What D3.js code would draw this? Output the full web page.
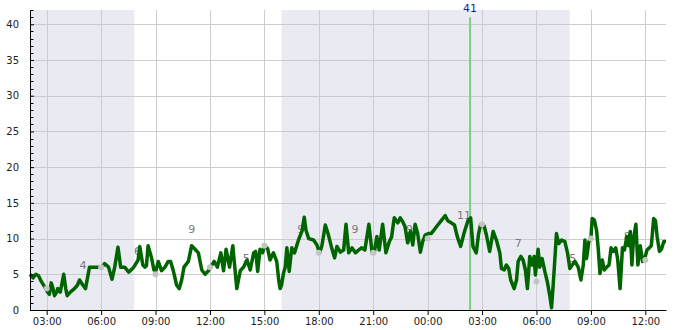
<!DOCTYPE html>
<html>
<head>
<meta charset="utf-8">
<script src="https://cdn.jsdelivr.net/npm/d3@7"></script>
<style>
    body { margin: 0; background: #fff; }
    #chart text { font-family: "DejaVu Sans", sans-serif; }
</style>
</head>
<body>
<div id="chart"></div>
<script>
// hours counted from midnight of the first day
const lineHours = [
    2.08, 2.25, 2.4, 2.55, 2.7, 2.9, 3.05, 3.15, 3.25, 3.35, 3.43, 3.55, 3.61, 3.75, 3.94, 4.05, 4.13, 4.3, 4.53, 4.7,
    4.81, 4.99, 5.14, 5.25, 5.36, 5.6, 5.92, 6.05, 6.19, 6.41, 6.6, 6.75, 6.93, 7.08, 7.3, 7.52, 7.8, 8.04, 8.13,
    8.3, 8.41, 8.5, 8.59, 8.78, 8.91, 9.02, 9.15, 9.33, 9.52, 9.7, 9.83, 9.98, 10.16, 10.31, 10.44, 10.57, 10.81,
    10.99, 11.18, 11.36, 11.55, 11.73, 11.92, 12.04, 12.23, 12.41, 12.6, 12.75, 12.89, 13.08, 13.26, 13.48, 13.67,
    13.85, 14.04, 14.22, 14.41,
    14.52, 14.63, 14.76, 14.9, 15.0, 15.18, 15.31, 15.4, 15.5, 15.68, 15.8, 15.87, 15.95, 16.05, 16.15, 16.24, 16.37,
    16.51, 16.66, 16.88, 17.07, 17.2, 17.29, 17.44, 17.71, 17.9, 18.04, 18.17, 18.36, 18.51, 18.69, 18.87, 19.0,
    19.19, 19.37, 19.5, 19.65, 19.83, 20.02, 20.2, 20.35, 20.54, 20.76, 20.94,
    21.06, 21.2, 21.33, 21.52, 21.7, 21.89, 22.01, 22.16, 22.35, 22.49, 22.62, 22.75, 22.9, 23.05, 23.18, 23.31,
    23.45, 23.6, 23.73, 23.86, 24.04, 24.19, 24.38, 24.56, 24.75, 24.97, 25.11, 25.3, 25.48, 25.63, 25.82, 26.0,
    26.22, 26.37, 26.5, 26.68, 26.81, 26.92, 27.11, 27.24,
    27.42, 27.61, 27.79, 27.98, 28.07, 28.22, 28.34, 28.47, 28.58, 28.77, 28.9, 28.99, 29.14, 29.26, 29.39, 29.5,
    29.63, 29.76, 29.87, 29.94, 30.09, 30.18, 30.31, 30.46, 30.61, 30.74, 30.83, 30.92, 31.01, 31.1, 31.23, 31.38,
    31.56, 31.71, 31.84, 31.97, 32.12, 32.3, 32.45, 32.58, 32.67,
    32.76, 32.89, 33.0, 33.07, 33.19, 33.31, 33.41, 33.5, 33.63, 33.74, 33.87, 34.0, 34.11, 34.24, 34.37, 34.48,
    34.61, 34.74, 34.85, 34.98, 35.07, 35.17, 35.26, 35.35, 35.48, 35.59, 35.72, 35.85, 36.0, 36.09, 36.22, 36.33,
    36.46, 36.56, 36.65, 36.78, 36.89, 37.02, 37.14
];
const lineValues = [
    5, 4.5, 5, 4.8, 4, 3.2, 2.5, 2.2, 3.8, 3, 2, 2.5, 3, 2.5, 5, 3, 2, 2.5, 3, 3.5,
    4.2, 3.5, 3, 4.5, 6, 6, 6, 6, 6.5, 6, 4.3, 6, 8.8, 6, 6, 5.3, 6, 7, 8.9,
    6.3, 6, 6.2, 9, 7.3, 5.6, 5.5, 6.8, 5.5, 6, 6.8, 6.8, 5.5, 3.5, 3, 4.2, 6, 6.8,
    9, 8.5, 8, 5.6, 5, 5.5, 6, 6.8, 6, 8, 5.5, 8.5, 6, 9, 3, 5.5,
    6, 7, 5.6, 8,
    8.2, 5.4, 8.5, 8, 9, 8.6, 7, 7.5, 8, 6.8, 4, 3, 3.5, 5.1, 6, 8.7, 5.4,
    8.7, 8, 9.8, 11, 13, 11.2, 10, 9.8, 9.1, 8, 9, 11.9, 10.7, 8.9, 7.3, 8.9,
    8.1, 8.4, 12, 8, 8.7, 8, 8.4, 8.7, 8.4, 12, 8,
    8, 10.3, 8.4, 12, 8, 9.6, 10.2, 12.9, 12.2, 12.9, 12.4, 11.7, 9.4, 11, 9.1, 12,
    10.7, 8.1, 9.6, 10.5, 10.7, 10.7, 11.3, 11.9, 12.5, 13.2, 12.5, 12.2, 11.9, 10.3, 8.9, 10.7,
    12.5, 12.9, 8.9, 8, 10.7, 12, 11.8, 10.5,
    8.2, 11, 9.8, 8, 5.8, 5.6, 6.3, 5.8, 4.2, 3, 4.2, 6.8, 7.5, 7, 5.6, 3,
    7.5, 6.3, 7.5, 4.9, 8.5, 6, 7.2, 5.4, 3.8, 1.9, 0.3, 3.5, 7, 10.7, 9.3, 9.8,
    9.6, 8, 5.8, 6.3, 6.8, 6, 4.2, 6.3, 9.8,
    7.2, 9.6, 10, 12.8, 12.6, 11.2, 8.4, 5.1, 7, 5.6, 6, 6.3, 8.7, 8.2, 8.7, 7,
    3, 8.7, 8.4, 10.3, 9, 11, 6.3, 10, 12, 6.3, 9, 6.8, 7.5, 8.4, 8.7, 9,
    12.8, 12.5, 10.3, 8.2, 8.5, 9.6, 9.6
];

const dotHours = [3, 6, 9, 12, 15, 18, 21, 24, 27, 30, 33, 36];
const dotValues = [3, 6, 5, 6, 9, 8, 8, 10, 12, 4, 10, 7];

const labelHours = [5, 8, 11, 14, 17, 20, 23, 26, 29, 32, 35];
const labelValues = [4, 6, 9, 5, 9, 9, 9, 11, 7, 5, 8];

// night bands [start, end] in hours
const nightStart = [2.08, 15.95];
const nightEnd = [7.83, 31.83];

const markerHour = 26.34;
const markerValue = 41;

const yTicks = [0, 5, 10, 15, 20, 25, 30, 35, 40];
const xStartHour = 2.08, xEndHour = 37.14;

const baseDate = new Date(2024, 0, 1);
function toDate(h) {
    return new Date(baseDate.getTime() + h * 3600 * 1000);
}

var margin = { top: 10, right: 19, bottom: 20, left: 30 },
    width = 685 - margin.left - margin.right,
    height = 330 - margin.top - margin.bottom;

const svg = d3.select('#chart')
    .append('svg')
    .attr('width', 685)
    .attr('height', 330)
    .append('g')
    .attr('transform', 'translate(' + margin.left + ',' + margin.top + ')');

const x = d3.scaleTime()
    .domain([toDate(xStartHour), toDate(xEndHour)])
    .range([0, width]);
const y = d3.scaleLinear().domain([0, 42]).range([height, 0]);

const xTicks = x.ticks(d3.timeHour.every(3));

// night shading
svg.selectAll('rect.night')
    .data(nightStart.map((s, i) => [s, nightEnd[i]]))
    .enter().append('rect')
    .attr('class', 'night')
    .attr('x', d => x(toDate(d[0])))
    .attr('width', d => x(toDate(d[1])) - x(toDate(d[0])))
    .attr('y', 0)
    .attr('height', height)
    .attr('fill', '#eaeaf2');

// grid
svg.append('g')
    .selectAll('line')
    .data(yTicks.filter(d => d > 0))
    .enter().append('line')
    .attr('x1', 0).attr('x2', width)
    .attr('y1', d => Math.round(y(d)) + 0.5)
    .attr('y2', d => Math.round(y(d)) + 0.5)
    .attr('stroke', '#cccccc');
svg.append('g')
    .selectAll('line')
    .data(xTicks)
    .enter().append('line')
    .attr('x1', d => Math.round(x(d)) + 0.5)
    .attr('x2', d => Math.round(x(d)) + 0.5)
    .attr('y1', 0).attr('y2', height)
    .attr('stroke', '#cccccc');

// value labels
svg.append('g')
    .selectAll('text')
    .data(labelHours.map((h, i) => [h, labelValues[i]]))
    .enter().append('text')
    .attr('x', d => x(toDate(d[0])))
    .attr('y', d => y(d[1] + 2.3))
    .attr('dy', '0.35em')
    .attr('text-anchor', 'middle')
    .attr('font-size', 11)
    .attr('fill', '#7a7a7a')
    .text(d => d[1]);

// marker
svg.append('line')
    .attr('x1', x(toDate(markerHour)))
    .attr('x2', x(toDate(markerHour)))
    .attr('y1', y(markerValue))
    .attr('y2', height)
    .attr('stroke', '#7fcb7f')
    .attr('stroke-width', 2);
svg.append('text')
    .attr('x', x(toDate(markerHour)))
    .attr('y', y(markerValue) - 5)
    .attr('text-anchor', 'middle')
    .attr('font-size', 11)
    .attr('fill', '#1f1f8a')
    .text(markerValue);

// the series
var valueline = d3.line()
    .x(function (d) { return x(toDate(d[0])); })
    .y(function (d) { return y(d[1]); });

svg.append('path')
    .datum(lineHours.map((h, i) => [h, lineValues[i]]))
    .attr('fill', 'none')
    .attr('stroke', '#006400')
    .attr('stroke-width', 3.5)
    .attr('stroke-linejoin', 'round')
    .attr('d', valueline);

svg.append('g')
    .selectAll('circle')
    .data(dotHours.map((h, i) => [h, dotValues[i]]))
    .enter().append('circle')
    .attr('cx', d => x(toDate(d[0])))
    .attr('cy', d => y(d[1]))
    .attr('r', 3)
    .attr('fill', '#c4c4c4');

// x axis
const xAxis = svg.append('g')
    .attr('transform', 'translate(0,' + height + ')')
    .call(d3.axisBottom(x)
        .tickValues(xTicks)
        .tickSize(5)
        .tickSizeOuter(0)
        .tickFormat(d3.timeFormat('%H:%M')));
xAxis.selectAll('text')
    .attr('y', 8)
    .attr('font-size', 10)
    .attr('fill', '#222');
xAxis.select('.domain').attr('stroke', '#000');

// y axis with minor ticks inside
const yAxis = svg.append('g')
    .call(d3.axisLeft(y)
        .tickValues(yTicks)
        .tickSize(-4)
        .tickPadding(11)
        .tickSizeOuter(0));
yAxis.selectAll('text')
    .attr('font-size', 10)
    .attr('fill', '#222');
yAxis.append('g')
    .selectAll('line')
    .data(d3.range(0, 43).filter(d => d % 5 !== 0))
    .enter().append('line')
    .attr('x1', 0.5).attr('x2', 3.5)
    .attr('y1', d => Math.round(y(d)) + 0.5)
    .attr('y2', d => Math.round(y(d)) + 0.5)
    .attr('stroke', '#000');
</script>
</body>
</html>
